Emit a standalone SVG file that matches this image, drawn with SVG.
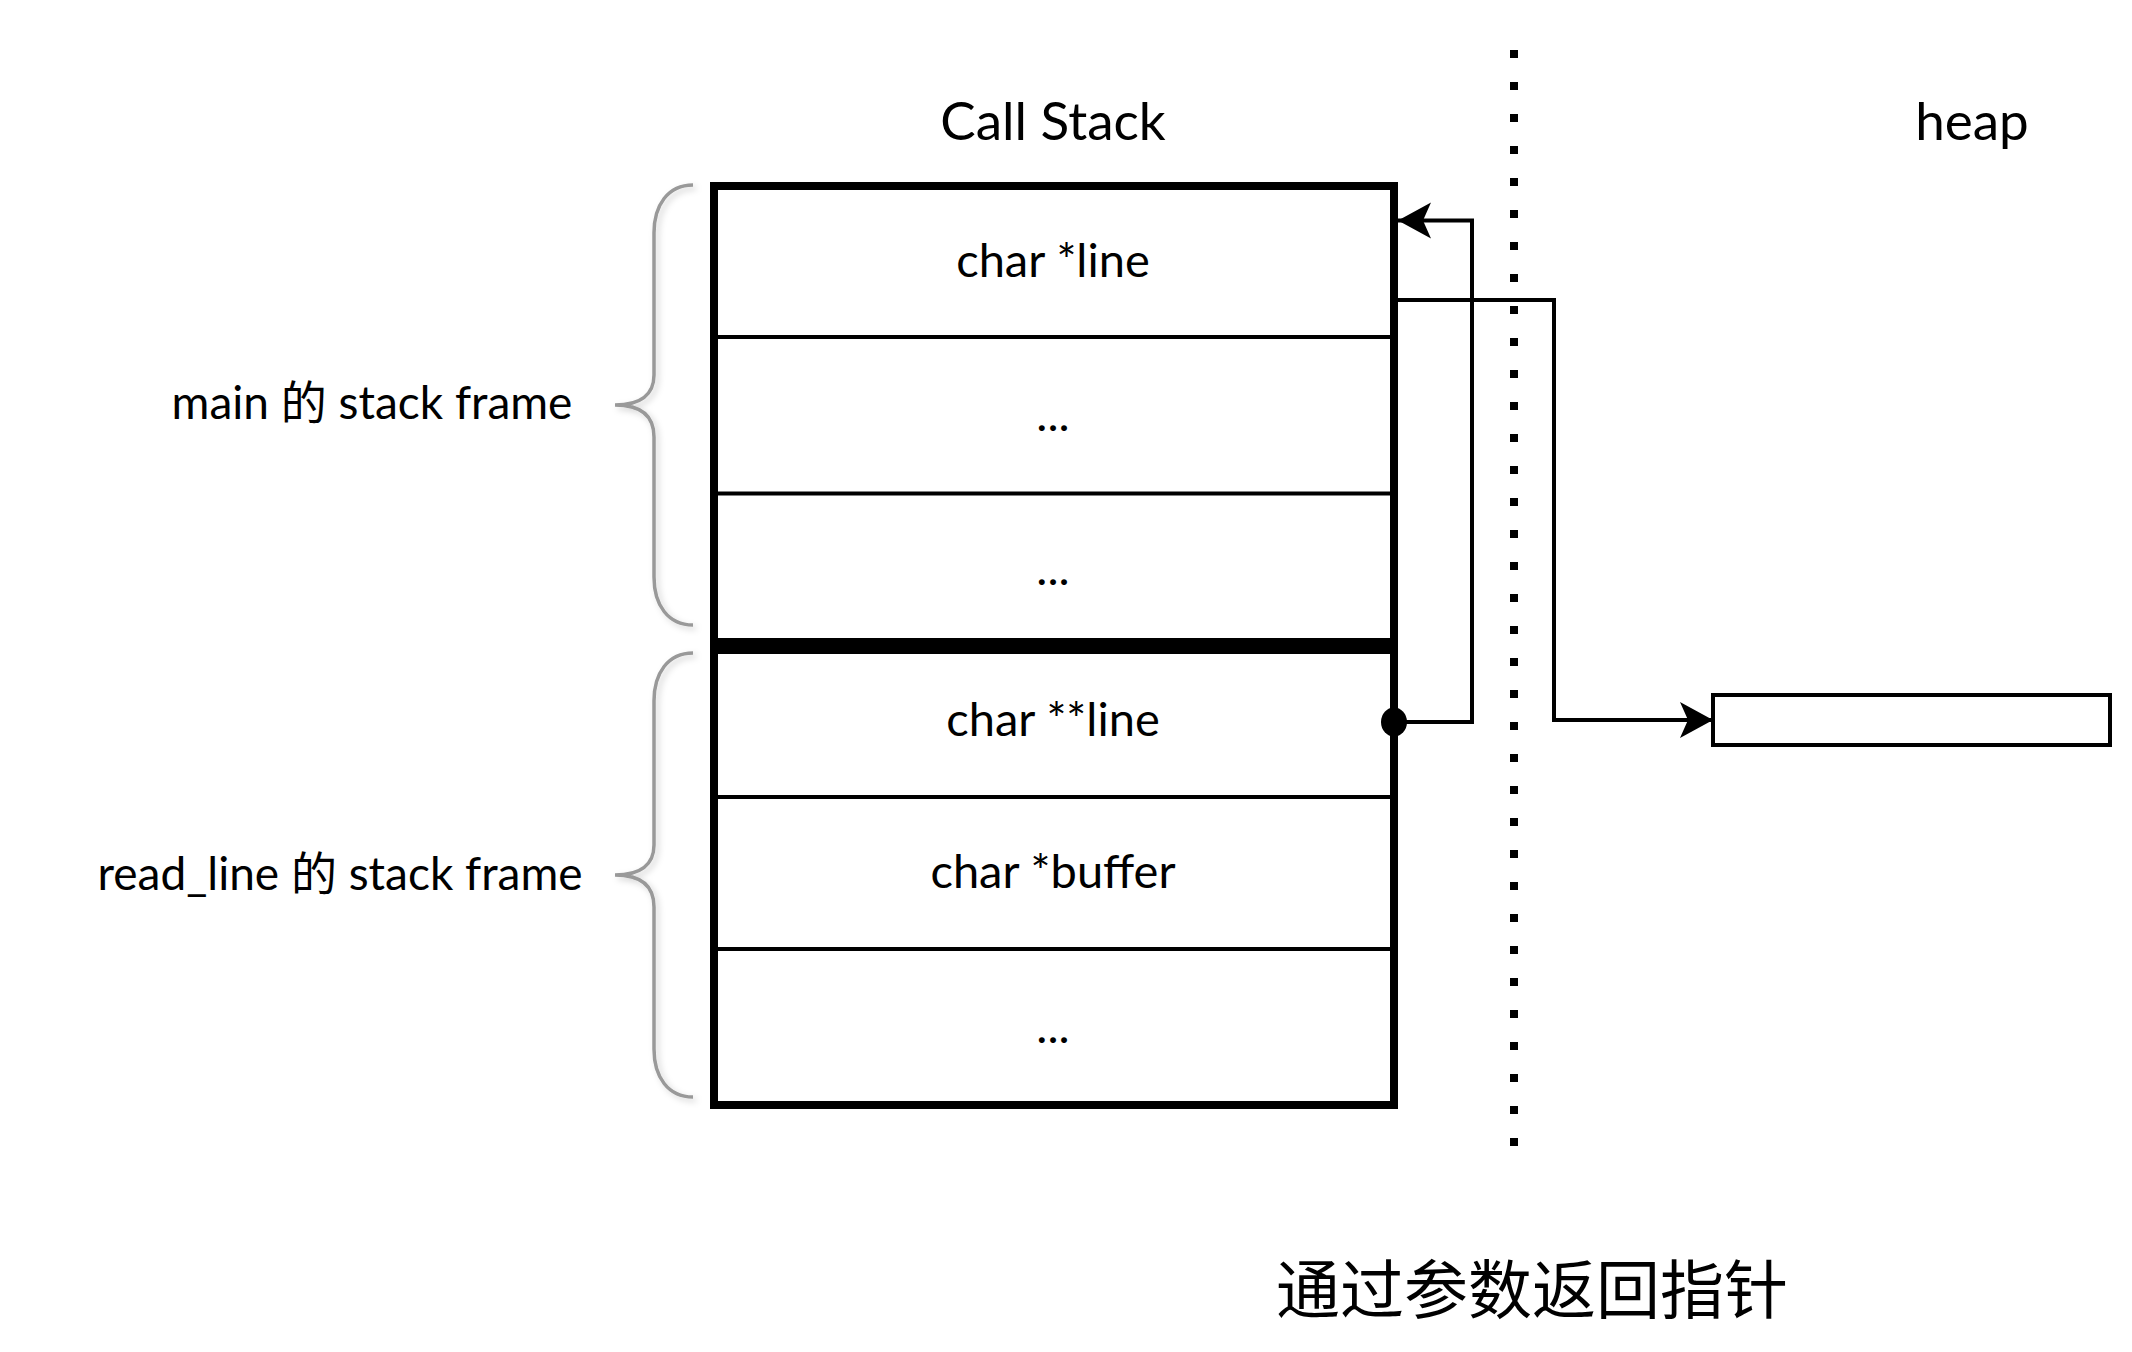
<svg xmlns="http://www.w3.org/2000/svg" width="2132" height="1352" viewBox="0 0 2132 1352">
<defs>
<style>
.lbl{font-family:Lato,"Noto Sans","Noto Sans CJK SC",sans-serif;fill:#000;}
.cell{font-size:47px;text-anchor:middle;}
.side{font-size:46px;text-anchor:middle;}
.title{font-size:53px;text-anchor:middle;}
.brace{fill:none;stroke:#999;stroke-width:3.5;filter:url(#sh);}
.edge{fill:none;stroke:#000;stroke-width:4;}
.div{stroke:#000;stroke-width:4;}
</style>
<filter id="sh" x="-50%" y="-10%" width="200%" height="120%">
<feDropShadow dx="3" dy="3" stdDeviation="3" flood-color="#000" flood-opacity="0.18"/>
</filter>
<marker id="arr" markerUnits="userSpaceOnUse" markerWidth="40" markerHeight="40" viewBox="-36 -20 40 40" refX="0" refY="0" orient="auto">
<path d="M0,0 L-33,-18 L-25,0 L-33,18 Z" fill="#000"/>
</marker>
</defs>
<rect width="2132" height="1352" fill="#fff"/>

<g id="title-callstack"><text class="lbl title" x="1053" y="140">Call Stack</text></g>
<g id="title-heap"><text class="lbl title" x="1972" y="140">heap</text></g>

<g id="divider-dotted">
<line x1="1514" y1="50" x2="1514" y2="1146" stroke="#000" stroke-width="8" stroke-dasharray="8 24"/>
</g>

<g id="brace-main">
<path class="brace" d="M693,185 C668,185 654,205 654,233 L654,375 C654,395 640,405 615,405 C640,405 654,415 654,437 L654,577 C654,605 668,625 693,625"/>
<text class="lbl side" x="372" y="419">main 的 stack frame</text>
</g>
<g id="brace-readline">
<path class="brace" d="M693,653 C668,653 654,673 654,701 L654,845 C654,865 640,875 615,875 C640,875 654,885 654,907 L654,1049 C654,1077 668,1097 693,1097"/>
<text class="lbl side" x="340" y="890">read_line 的 stack frame</text>
</g>

<g id="stack">
<rect x="714" y="186" width="680" height="919" fill="#fff" stroke="#000" stroke-width="8"/>
<line class="div" x1="714" y1="337" x2="1394" y2="337"/>
<line class="div" x1="714" y1="493.5" x2="1394" y2="493.5"/>
<line x1="714" y1="646" x2="1394" y2="646" stroke="#000" stroke-width="16"/>
<line class="div" x1="714" y1="797" x2="1394" y2="797"/>
<line class="div" x1="714" y1="949" x2="1394" y2="949"/>
</g>
<g id="cell-main-line"><text class="lbl cell" x="1053" y="277">char *line</text></g>
<g id="cell-main-2"><text class="lbl cell" x="1053" y="431">...</text></g>
<g id="cell-main-3"><text class="lbl cell" x="1053" y="585">...</text></g>
<g id="cell-rl-line"><text class="lbl cell" x="1053" y="736">char **line</text></g>
<g id="cell-rl-buffer"><text class="lbl cell" x="1053" y="888">char *buffer</text></g>
<g id="cell-rl-3"><text class="lbl cell" x="1053" y="1043">...</text></g>

<g id="heap-block">
<rect x="1713" y="695" width="397" height="50" fill="#fff" stroke="#000" stroke-width="4"/>
</g>

<g id="connectors">
<path class="edge" d="M1394,722 L1472,722 L1472,220.5 L1398,220.5" marker-end="url(#arr)"/>
<ellipse cx="1394" cy="722" rx="13" ry="14.5" fill="#000"/>
<path class="edge" d="M1398,300 L1554,300 L1554,720 L1713,720" marker-end="url(#arr)"/>
</g>

<g id="caption">
<text x="1532" y="1313" font-family="'Noto Sans CJK SC',sans-serif" font-size="64" text-anchor="middle" fill="#000">通过参数返回指针</text>
</g>
</svg>
